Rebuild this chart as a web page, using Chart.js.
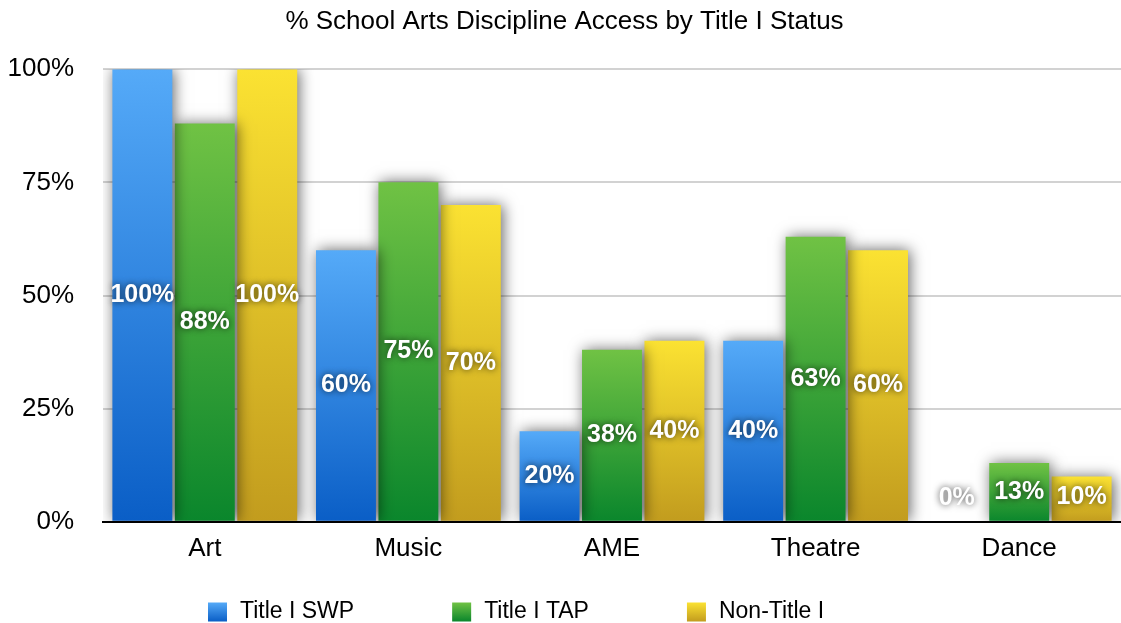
<!DOCTYPE html>
<html>
<head>
<meta charset="utf-8">
<title>% School Arts Discipline Access by Title I Status</title>
<script src="https://cdn.jsdelivr.net/npm/chart.js@4.4.1/dist/chart.umd.min.js"></script>
<style>
  html, body { margin: 0; padding: 0; background: #fff; }
  #wrap { width: 1121px; height: 623px; position: relative; }
</style>
</head>
<body>
<div id="wrap"><canvas id="accessChart"></canvas></div>
<script>
const disciplines = ['Art', 'Music', 'AME', 'Theatre', 'Dance'];
const seriesNames = ['Title I SWP', 'Title I TAP', 'Non-Title I'];
const swpValues = [100, 60, 20, 40, 0];
const tapValues = [88, 75, 38, 63, 13];
const nonTitleValues = [100, 70, 40, 60, 10];
const yTicks = [0, 25, 50, 75, 100];

// top / bottom colours of each series gradient
const shades = [
  ['#55aaf8', '#0a5ec6'],
  ['#70c244', '#0a862c'],
  ['#fbe232', '#c29c1e']
];

const FONT = "'Liberation Sans', Arial, Helvetica, sans-serif";
const LABEL_FONT = "'Liberation Sans Narrow', 'Arial Narrow', 'Liberation Sans', sans-serif";

function barFill(i) {
  return function (ctx) {
    const chart = ctx.chart;
    const y = chart.scales && chart.scales.y;
    if (!y || typeof ctx.raw !== 'number') return shades[i][1];
    const top = y.getPixelForValue(ctx.raw);
    const base = y.getPixelForValue(0);
    if (!isFinite(top) || !isFinite(base) || base - top < 1) return shades[i][1];
    const g = chart.ctx.createLinearGradient(0, top, 0, base);
    g.addColorStop(0, shades[i][0]);
    g.addColorStop(1, shades[i][1]);
    return g;
  };
}

// soft drop shadow behind the bars
const barShadow = {
  id: 'barShadow',
  beforeDatasetsDraw(chart) {
    const c = chart.ctx;
    c.save();
    c.shadowColor = 'rgba(0,0,0,0.6)';
    c.shadowBlur = 14;
    c.shadowOffsetX = 2;
    c.shadowOffsetY = 0;
  },
  afterDatasetsDraw(chart) {
    chart.ctx.restore();
  }
};

// white value labels in the middle of each bar
const valueLabels = {
  id: 'valueLabels',
  afterDatasetsDraw(chart) {
    const c = chart.ctx;
    c.save();
    c.font = 'bold 25px ' + LABEL_FONT;
    c.textAlign = 'center';
    c.textBaseline = 'middle';
    c.fillStyle = '#fff';
    c.shadowColor = 'rgba(0,0,0,0.75)';
    c.shadowBlur = 7;
    chart.data.datasets.forEach((ds, di) => {
      const meta = chart.getDatasetMeta(di);
      meta.data.forEach((bar, i) => {
        const y = Math.min((bar.y + bar.base) / 2, bar.base - 24);
        c.fillText(ds.data[i] + '%', bar.x, y);
      });
    });
    c.restore();
  }
};

// legend row along the bottom: gradient square + series name
const bottomLegend = {
  id: 'bottomLegend',
  afterDraw(chart) {
    const c = chart.ctx;
    const box = 19, gapText = 13, gapItem = 98;
    const cy = chart.height - 11;
    let x = 208;
    c.save();
    c.font = '23px ' + FONT;
    c.textBaseline = 'middle';
    seriesNames.forEach((name, i) => {
      const g = c.createLinearGradient(0, cy - box / 2, 0, cy + box / 2);
      g.addColorStop(0, shades[i][0]);
      g.addColorStop(1, shades[i][1]);
      c.fillStyle = g;
      c.fillRect(x, cy - box / 2, box, box);
      c.fillStyle = '#000';
      c.fillText(name, x + box + gapText, cy);
      x += box + gapText + c.measureText(name).width + gapItem;
    });
    c.restore();
  }
};

const seriesValues = [swpValues, tapValues, nonTitleValues];

new Chart(document.getElementById('accessChart'), {
  type: 'bar',
  data: {
    labels: disciplines,
    datasets: seriesNames.map((name, i) => ({
      label: name,
      data: seriesValues[i],
      backgroundColor: barFill(i),
      borderWidth: 0,
      categoryPercentage: 0.92,
      barPercentage: 0.96
    }))
  },
  options: {
    responsive: true,
    maintainAspectRatio: false,
    animation: false,
    layout: { padding: { left: 8, right: 0, top: 0, bottom: 56 } },
    plugins: {
      title: {
        display: true,
        text: '% School Arts Discipline Access by Title I Status',
        color: '#000',
        font: { family: FONT, size: 26, weight: 'normal' },
        padding: { top: 6, bottom: 32 }
      },
      legend: { display: false },
      tooltip: { enabled: false }
    },
    scales: {
      x: {
        grid: { display: false },
        border: { color: '#000', width: 2 },
        ticks: { color: '#000', font: { family: FONT, size: 26 }, padding: 3 }
      },
      y: {
        min: 0,
        max: 100,
        afterBuildTicks(scale) { scale.ticks = yTicks.map(v => ({ value: v })); },
        afterFit(scale) { scale.width = 95; },
        grid: { color: '#d2d2d2', lineWidth: 2, drawTicks: false },
        border: { display: false },
        ticks: {
          color: '#000',
          font: { family: FONT, size: 26 },
          padding: 29,
          callback: v => v + '%'
        }
      }
    }
  },
  plugins: [barShadow, valueLabels, bottomLegend]
});
</script>
</body>
</html>
